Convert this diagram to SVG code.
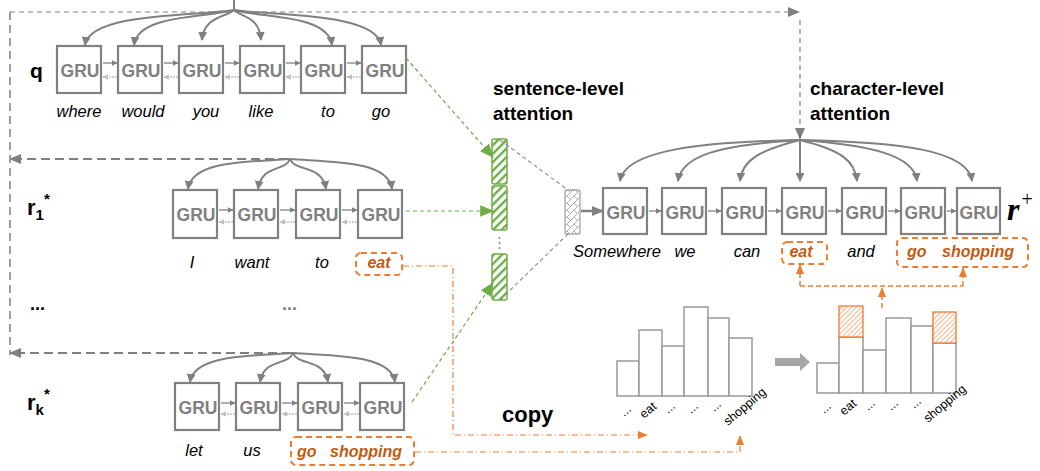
<svg xmlns="http://www.w3.org/2000/svg" width="1040" height="471" viewBox="0 0 1040 471">
<style>
.box{fill:#fff;stroke:#808080;stroke-width:2.2}
.gru{font-family:"Liberation Sans",Arial,sans-serif;font-weight:bold;font-size:17.5px;fill:#808080;text-anchor:middle}
.w{font-family:"Liberation Sans",Arial,sans-serif;font-style:italic;font-size:16.5px;fill:#000;text-anchor:middle}
.ow{font-family:"Liberation Sans",Arial,sans-serif;font-style:italic;font-weight:bold;font-size:16px;fill:#C55A11}
.title{font-family:"Liberation Sans",Arial,sans-serif;font-weight:bold;font-size:19px;fill:#000}
.lab{font-family:"Liberation Sans",Arial,sans-serif;font-weight:bold;fill:#000}
.fan{fill:none;stroke:#808080;stroke-width:2}
.fw{fill:none;stroke:#808080;stroke-width:1.3}
.bw{fill:none;stroke:#BFBFBF;stroke-width:1.5;stroke-dasharray:2,1}
.gd{fill:none;stroke:#70AD47;stroke-width:1.2;stroke-dasharray:4,3}
.gray-d{fill:none;stroke:#8C8C8C;stroke-width:1.1;stroke-dasharray:4,3}
.thick-d{fill:none;stroke:#808080;stroke-width:2;stroke-dasharray:9,5}
.thin-d{fill:none;stroke:#808080;stroke-width:1.2;stroke-dasharray:5,4}
.od{fill:none;stroke:#ED7D31;stroke-width:1.2;stroke-dasharray:6,3,1,3}
.odash{fill:none;stroke:#ED7D31;stroke-width:1.5;stroke-dasharray:5,3}
.obox{fill:none;stroke:#ED7D31;stroke-width:2;stroke-dasharray:6,4}
.bar{fill:#fff;stroke:#999;stroke-width:1.5}
.cl{font-family:"Liberation Sans",Arial,sans-serif;font-size:12.5px;fill:#000}
</style>
<defs>
<marker id="mFan" markerUnits="userSpaceOnUse" markerWidth="9" markerHeight="9" viewBox="0 0 10 10" refX="9" refY="5" orient="auto"><path d="M0,0 L10,5 L0,10z" fill="#808080"/></marker>
<marker id="mSm" markerUnits="userSpaceOnUse" markerWidth="6" markerHeight="6" viewBox="0 0 10 10" refX="9" refY="5" orient="auto"><path d="M0,0 L10,5 L0,10z" fill="#808080"/></marker>
<marker id="mSmL" markerUnits="userSpaceOnUse" markerWidth="6" markerHeight="6" viewBox="0 0 10 10" refX="9" refY="5" orient="auto"><path d="M0,0 L10,5 L0,10z" fill="#BFBFBF"/></marker>
<marker id="mBig" markerUnits="userSpaceOnUse" markerWidth="12" markerHeight="12" viewBox="0 0 12 12" refX="11" refY="6" orient="auto"><path d="M0,1 L12,6 L0,11z" fill="#808080"/></marker>
<marker id="mG" markerUnits="userSpaceOnUse" markerWidth="14" markerHeight="14" viewBox="0 0 12 12" refX="11" refY="6" orient="auto"><path d="M0,1 L12,6 L0,11z" fill="#70AD47"/></marker>
<marker id="mO" markerUnits="userSpaceOnUse" markerWidth="10" markerHeight="10" viewBox="0 0 12 12" refX="11" refY="6" orient="auto"><path d="M0,1 L12,6 L0,11z" fill="#ED7D31"/></marker>
<pattern id="pGreen" width="6" height="6" patternUnits="userSpaceOnUse" patternTransform="rotate(-45)"><rect width="6" height="6" fill="#fff"/><rect width="6" height="2.4" fill="#70AD47"/></pattern>
<pattern id="pOrange" width="3.5" height="3.5" patternUnits="userSpaceOnUse" patternTransform="rotate(-45)"><rect width="3.5" height="3.5" fill="#fff"/><rect width="3.5" height="1" fill="#F4B183"/></pattern>
<pattern id="pGray" width="7" height="7" patternUnits="userSpaceOnUse"><rect width="7" height="7" fill="#fff"/><path d="M0,7 L7,0 M0,0 L3.5,3.5" stroke="#9A9A9A" stroke-width="0.8" fill="none"/></pattern>
</defs>

<!-- long dashed routing lines -->
<g id="routing">
<path class="thin-d" d="M10,12 H799" marker-end="url(#mBig)"/>
<path class="thin-d" d="M800,20 V139" marker-end="url(#mBig)"/>
<path class="thick-d" d="M10,12 V355" style="stroke-width:1.5;stroke-dasharray:8,5"/>
<path class="thick-d" d="M288,159 H10" marker-end="url(#mBig)"/>
<path class="thick-d" d="M291,353 H10" marker-end="url(#mBig)"/>
</g>

<!-- labels -->
<g id="labels">
<text class="lab" x="30" y="78" font-size="21">q</text>
<text class="lab" x="27" y="215" font-size="22">r<tspan font-size="15" dy="5">1</tspan><tspan font-size="15" dy="-16">*</tspan></text>
<text class="lab" x="30" y="310" font-size="18">...</text>
<text class="lab" x="27" y="410" font-size="22">r<tspan font-size="15" dy="5">k</tspan><tspan font-size="15" dy="-16">*</tspan></text>
<text class="lab" x="282" y="310" font-size="18" style="fill:#808080">...</text>
<text class="title" x="493" y="95">sentence-level</text>
<text class="title" x="493" y="120">attention</text>
<text class="title" x="810" y="95">character-level</text>
<text class="title" x="810" y="120">attention</text>
<text x="1007" y="220" font-family="Liberation Serif,serif" font-weight="bold" font-style="italic" font-size="32" fill="#000">r<tspan font-size="20" dy="-14" dx="2" font-style="normal" font-weight="normal">+</tspan></text>
<text class="lab" x="502" y="422" font-size="22">copy</text>
</g>

<!-- q row -->
<g id="q-row">
<path class="fan" d="M234,0 V10"/>
<path class="fan" d="M234,10 C200,16 90,12 85,45" marker-end="url(#mFan)"/>
<path class="fan" d="M234,10 C205,18 138,14 134,45" marker-end="url(#mFan)"/>
<path class="fan" d="M234,10 C225,18 204,16 202,40" marker-end="url(#mFan)"/>
<path class="fan" d="M234,10 C243,18 259,16 261,40" marker-end="url(#mFan)"/>
<path class="fan" d="M234,10 C262,18 328,14 332,45" marker-end="url(#mFan)"/>
<path class="fan" d="M234,10 C270,16 376,12 381,45" marker-end="url(#mFan)"/>
<rect class="box" x="57" y="46" width="44" height="47"/><text class="gru" x="80" y="77">GRU</text>
<rect class="box" x="118" y="46" width="44" height="47"/><text class="gru" x="141" y="77">GRU</text>
<rect class="box" x="179" y="46" width="44" height="47"/><text class="gru" x="202" y="77">GRU</text>
<rect class="box" x="240" y="46" width="44" height="47"/><text class="gru" x="263" y="77">GRU</text>
<rect class="box" x="301" y="46" width="44" height="47"/><text class="gru" x="324" y="77">GRU</text>
<rect class="box" x="362" y="46" width="44" height="47"/><text class="gru" x="385" y="77">GRU</text>
<path class="fw" d="M103,63 H117" marker-end="url(#mSm)"/><path class="bw" d="M117,77 H103" marker-end="url(#mSmL)"/>
<path class="fw" d="M164,63 H178" marker-end="url(#mSm)"/><path class="bw" d="M178,77 H164" marker-end="url(#mSmL)"/>
<path class="fw" d="M225,63 H239" marker-end="url(#mSm)"/><path class="bw" d="M239,77 H225" marker-end="url(#mSmL)"/>
<path class="fw" d="M286,63 H300" marker-end="url(#mSm)"/><path class="bw" d="M300,77 H286" marker-end="url(#mSmL)"/>
<path class="fw" d="M347,63 H361" marker-end="url(#mSm)"/><path class="bw" d="M361,77 H347" marker-end="url(#mSmL)"/>
<text class="w" x="79" y="117">where</text>
<text class="w" x="143" y="117">would</text>
<text class="w" x="206" y="117">you</text>
<text class="w" x="261" y="117">like</text>
<text class="w" x="328" y="117">to</text>
<text class="w" x="381" y="117">go</text>
</g>

<!-- r1 row -->
<g id="r1-row">
<path class="fan" d="M290,159 C250,162 192,160 188,189" marker-end="url(#mFan)"/>
<path class="fan" d="M290,159 C285,172 262,164 258,189" marker-end="url(#mFan)"/>
<path class="fan" d="M290,159 C295,172 322,164 326,189" marker-end="url(#mFan)"/>
<path class="fan" d="M290,159 C330,162 388,160 392,189" marker-end="url(#mFan)"/>
<rect class="box" x="173" y="190" width="44" height="48"/><text class="gru" x="196" y="221">GRU</text>
<rect class="box" x="234" y="190" width="44" height="48"/><text class="gru" x="257" y="221">GRU</text>
<rect class="box" x="296" y="190" width="44" height="48"/><text class="gru" x="319" y="221">GRU</text>
<rect class="box" x="358" y="190" width="44" height="48"/><text class="gru" x="381" y="221">GRU</text>
<path class="fw" d="M219,210 H233" marker-end="url(#mSm)"/><path class="bw" d="M233,222 H219" marker-end="url(#mSmL)"/>
<path class="fw" d="M280,210 H295" marker-end="url(#mSm)"/><path class="bw" d="M295,222 H280" marker-end="url(#mSmL)"/>
<path class="fw" d="M342,210 H357" marker-end="url(#mSm)"/><path class="bw" d="M357,222 H342" marker-end="url(#mSmL)"/>
<text class="w" x="192" y="268">I</text>
<text class="w" x="252" y="268">want</text>
<text class="w" x="322" y="268">to</text>
<rect class="obox" x="356" y="253" width="46" height="22" rx="5"/>
<text class="ow" x="379" y="268" text-anchor="middle">eat</text>
</g>

<!-- rk row -->
<g id="rk-row">
<path class="fan" d="M293,353 C253,356 194,354 190,382" marker-end="url(#mFan)"/>
<path class="fan" d="M293,353 C288,366 264,358 260,382" marker-end="url(#mFan)"/>
<path class="fan" d="M293,353 C298,366 324,358 328,382" marker-end="url(#mFan)"/>
<path class="fan" d="M293,353 C333,356 391,354 395,382" marker-end="url(#mFan)"/>
<rect class="box" x="175" y="383" width="44" height="47"/><text class="gru" x="198" y="414">GRU</text>
<rect class="box" x="236" y="383" width="44" height="47"/><text class="gru" x="259" y="414">GRU</text>
<rect class="box" x="298" y="383" width="44" height="47"/><text class="gru" x="321" y="414">GRU</text>
<rect class="box" x="360" y="383" width="44" height="47"/><text class="gru" x="383" y="414">GRU</text>
<path class="fw" d="M221,403 H235" marker-end="url(#mSm)"/><path class="bw" d="M235,414 H221" marker-end="url(#mSmL)"/>
<path class="fw" d="M282,403 H297" marker-end="url(#mSm)"/><path class="bw" d="M297,414 H282" marker-end="url(#mSmL)"/>
<path class="fw" d="M344,403 H359" marker-end="url(#mSm)"/><path class="bw" d="M359,414 H344" marker-end="url(#mSmL)"/>
<text class="w" x="194" y="456">let</text>
<text class="w" x="252" y="456">us</text>
<rect class="obox" x="291" y="437" width="123" height="28" rx="5"/>
<text class="ow" x="297" y="457">go</text>
<text class="ow" x="330" y="457">shopping</text>
</g>

<!-- attention bars -->
<g id="sentence-attention">
<rect x="492" y="139" width="15" height="45" rx="2" fill="url(#pGreen)" stroke="#70AD47" stroke-width="1.5"/>
<rect x="492" y="186" width="15" height="44" rx="2" fill="url(#pGreen)" stroke="#70AD47" stroke-width="1.5"/>
<circle cx="499.5" cy="238" r="1" fill="#808080"/><circle cx="499.5" cy="243" r="1" fill="#808080"/><circle cx="499.5" cy="248" r="1" fill="#808080"/>
<rect x="492" y="254" width="15" height="46" rx="2" fill="url(#pGreen)" stroke="#70AD47" stroke-width="1.5"/>
</g>
<g id="context-vector">
<rect x="565" y="190" width="15" height="44" rx="2" fill="url(#pGray)" stroke="#A6A6A6" stroke-width="1.3"/>
</g>

<!-- r+ row -->
<g id="rplus-row">
<path class="fan" d="M800,140 C700,142 625,150 620,181" marker-end="url(#mFan)"/>
<path class="fan" d="M800,140 C720,145 682,155 678,181" marker-end="url(#mFan)"/>
<path class="fan" d="M800,140 C760,150 742,160 740,181" marker-end="url(#mFan)"/>
<path class="fan" d="M800,140 V181" marker-end="url(#mFan)"/>
<path class="fan" d="M800,140 C840,150 855,160 857,181" marker-end="url(#mFan)"/>
<path class="fan" d="M800,140 C870,145 914,155 917,181" marker-end="url(#mFan)"/>
<path class="fan" d="M800,140 C900,142 968,150 972,181" marker-end="url(#mFan)"/>
<rect class="box" x="603" y="188" width="44" height="46"/><text class="gru" x="626" y="219">GRU</text>
<rect class="box" x="662" y="188" width="44" height="46"/><text class="gru" x="685" y="219">GRU</text>
<rect class="box" x="722" y="188" width="44" height="46"/><text class="gru" x="745" y="219">GRU</text>
<rect class="box" x="782" y="188" width="44" height="46"/><text class="gru" x="805" y="219">GRU</text>
<rect class="box" x="842" y="188" width="44" height="46"/><text class="gru" x="865" y="219">GRU</text>
<rect class="box" x="901" y="188" width="44" height="46"/><text class="gru" x="924" y="219">GRU</text>
<rect class="box" x="957" y="188" width="43" height="46"/><text class="gru" x="979" y="219">GRU</text>
<path class="fw" d="M649,211 H661" marker-end="url(#mSm)"/>
<path class="fw" d="M708,211 H721" marker-end="url(#mSm)"/>
<path class="fw" d="M768,211 H781" marker-end="url(#mSm)"/>
<path class="fw" d="M828,211 H841" marker-end="url(#mSm)"/>
<path class="fw" d="M888,211 H900" marker-end="url(#mSm)"/>
<path class="fw" d="M947,211 H956" marker-end="url(#mSm)"/>
<text class="w" x="617" y="257">Somewhere</text>
<text class="w" x="685" y="257">we</text>
<text class="w" x="747" y="257">can</text>
<rect class="obox" x="782" y="242" width="45" height="22" rx="5"/>
<text class="ow" x="801" y="257" text-anchor="middle">eat</text>
<text class="w" x="861" y="257">and</text>
<rect class="obox" x="897" y="238" width="131" height="29" rx="5"/>
<text class="ow" x="907" y="257">go</text>
<text class="ow" x="942" y="257">shopping</text>
</g>

<!-- histogram 1 -->
<g id="chart-before">
<rect class="bar" x="617" y="361" width="22" height="35"/>
<rect class="bar" x="639" y="330" width="23" height="66"/>
<rect class="bar" x="662" y="346" width="22" height="50"/>
<rect class="bar" x="684" y="307" width="24" height="89"/>
<rect class="bar" x="708" y="318" width="21" height="78"/>
<rect class="bar" x="729" y="338" width="23" height="58"/>
<text class="cl" transform="translate(624,417) rotate(-40)">...</text>
<text class="cl" transform="translate(644,419) rotate(-40)">eat</text>
<text class="cl" transform="translate(668,414) rotate(-40)">...</text>
<text class="cl" transform="translate(691,414) rotate(-40)">...</text>
<text class="cl" transform="translate(714,412) rotate(-40)">...</text>
<text class="cl" transform="translate(728,426) rotate(-40)">shopping</text>
</g>
<g id="transition-arrow">
<path d="M775,358 H800 V353 L810,362 L800,371 V366 H775z" fill="#A6A6A6"/>
</g>
<!-- histogram 2 -->
<g id="chart-after">
<rect class="bar" x="817" y="363" width="22" height="30"/>
<rect class="bar" x="839" y="337" width="24" height="56"/>
<rect x="839" y="306" width="24" height="31" fill="url(#pOrange)" stroke="#ED7D31" stroke-width="1.3"/>
<rect class="bar" x="863" y="350" width="23" height="43"/>
<rect class="bar" x="886" y="318" width="25" height="75"/>
<rect class="bar" x="911" y="326" width="22" height="67"/>
<rect class="bar" x="933" y="343" width="23" height="50"/>
<rect x="933" y="312" width="23" height="31" fill="url(#pOrange)" stroke="#ED7D31" stroke-width="1.3"/>
<text class="cl" transform="translate(824,414) rotate(-40)">...</text>
<text class="cl" transform="translate(844,416) rotate(-40)">eat</text>
<text class="cl" transform="translate(868,411) rotate(-40)">...</text>
<text class="cl" transform="translate(891,411) rotate(-40)">...</text>
<text class="cl" transform="translate(914,409) rotate(-40)">...</text>
<text class="cl" transform="translate(928,423) rotate(-40)">shopping</text>
</g>

<!-- connectors -->
<g id="connectors">
<path class="gd" d="M406,58 L493,157" marker-end="url(#mG)"/>
<path class="gd" d="M406,211 L493,211" marker-end="url(#mG)"/>
<path class="gd" d="M412,402 L493,283" marker-end="url(#mG)"/>
<path class="gray-d" d="M500,140 L568,190"/>
<path class="gray-d" d="M500,300 L568,234"/>
<path fill="none" stroke="#808080" stroke-width="2.5" d="M581,211 H603" marker-end="url(#mBig)"/>
<path class="od" d="M403,266 H453 V435 H647" marker-end="url(#mO)"/>
<path class="od" d="M415,452 H740 V436" marker-end="url(#mO)"/>
<path class="odash" d="M882,308 V288" marker-end="url(#mO)"/>
<path class="odash" d="M800,286 H963"/>
<path class="odash" d="M800,286 V265" marker-end="url(#mO)"/>
<path class="odash" d="M963,286 V268" marker-end="url(#mO)"/>
</g>
</svg>
